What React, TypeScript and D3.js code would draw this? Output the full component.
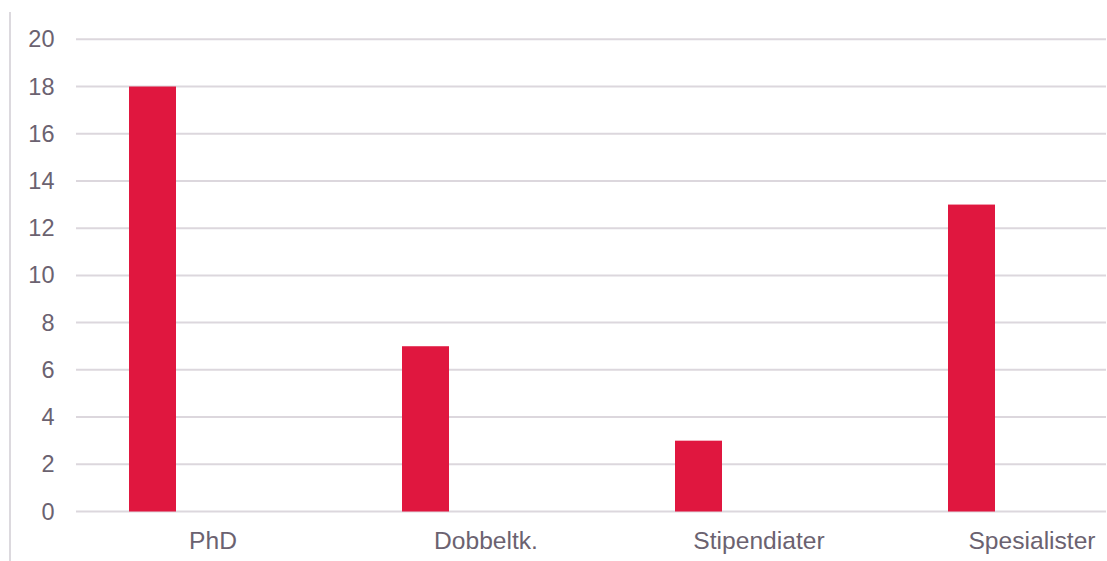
import * as d3 from 'd3';

const categories = ['PhD', 'Dobbeltk.', 'Stipendiater', 'Spesialister'];
const values = [18, 7, 3, 13];
const series = ['antall', 'tom'];
const yTicks = [0, 2, 4, 6, 8, 10, 12, 14, 16, 18, 20];

const W = 1107;
const H = 561;
const textColor = '#6b6270';
const gridColor = '#dcd7dd';
const barColor = '#e0173f';
const font = '"Liberation Sans", Arial, sans-serif';

export default function App() {
  // plotområdet går litt ut over høyre kant, som i originalen
  const x0 = d3.scaleBand<string>().domain(categories).range([76.5, 1168.5]).padding(0);
  const x1 = d3
    .scaleBand<string>()
    .domain(series)
    .range([0, x0.bandwidth()])
    .paddingInner(0.6116)
    .paddingOuter(0.434);
  const y = d3.scaleLinear().domain([0, 20]).range([511.5, 39.3]);

  return (
    <svg
      width={W}
      height={H}
      style={{ position: 'absolute', left: 0, top: 0, background: '#fff' }}
      fontFamily={font}
    >
      <line x1={10} x2={10} y1={12} y2={H} stroke="#dcd9de" strokeWidth={2} />

      {yTicks.map((t) => (
        <g key={t}>
          <line x1={76} x2={1106} y1={y(t)} y2={y(t)} stroke={gridColor} strokeWidth={2} />
          <text
            x={54.5}
            y={y(t)}
            textAnchor="end"
            dominantBaseline="central"
            fontSize={23.5}
            fill={textColor}
          >
            {t}
          </text>
        </g>
      ))}

      {categories.map((c, i) => (
        <rect
          key={c}
          x={x0(c)! + x1('antall')!}
          y={y(values[i])}
          width={x1.bandwidth()}
          height={y(0) - y(values[i])}
          fill={barColor}
        />
      ))}

      {categories.map((c) => (
        <text
          key={c}
          x={x0(c)! + x0.bandwidth() / 2}
          y={549}
          textAnchor="middle"
          fontSize={24.6}
          fill={textColor}
        >
          {c}
        </text>
      ))}
    </svg>
  );
}
